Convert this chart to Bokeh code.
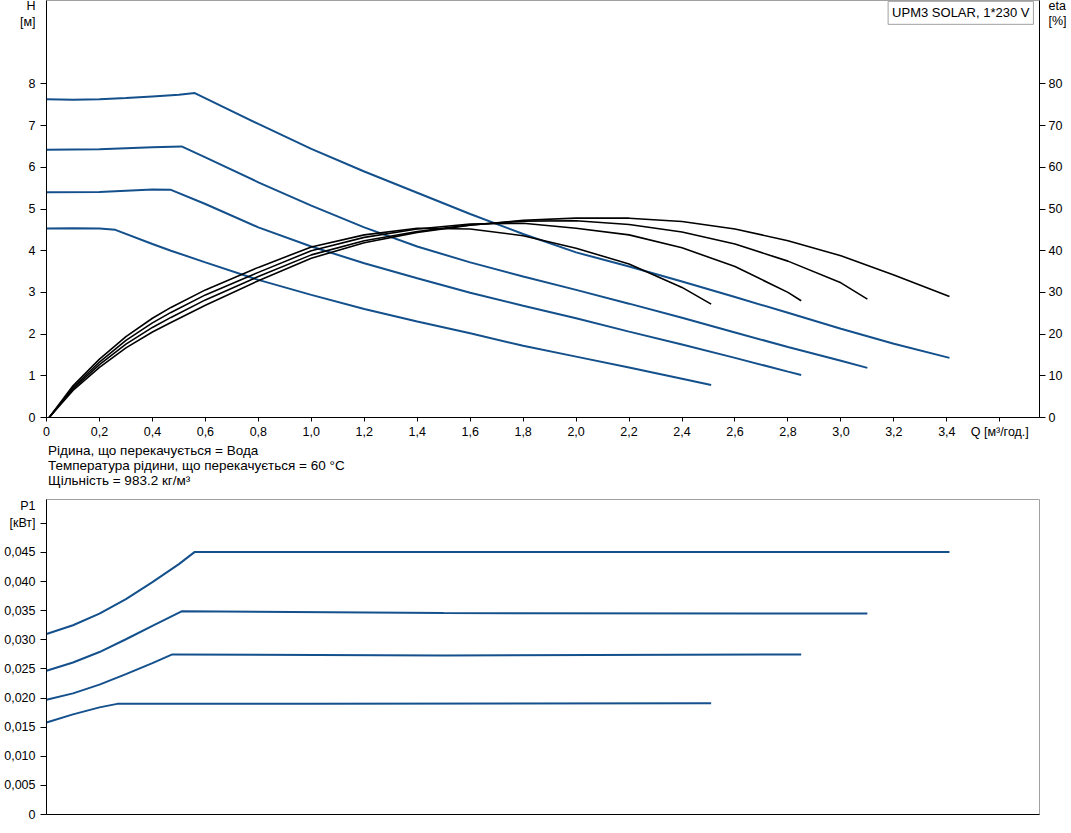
from bokeh.plotting import figure
from bokeh.models import Range1d, LinearAxis, FixedTicker, Label, Div
from bokeh.layouts import column
from bokeh.embed import file_html
from bokeh.resources import INLINE

FONT = "Liberation Sans"
BLUE = "#14508c"
GRID = "#d4d4d4"

# ---------------- data ----------------
q_ticks = [0, 0.2, 0.4, 0.6, 0.8, 1.0, 1.2, 1.4, 1.6, 1.8, 2.0, 2.2, 2.4, 2.6, 2.8, 3.0, 3.2, 3.4, 3.6]
q_labels = ["0", "0,2", "0,4", "0,6", "0,8", "1,0", "1,2", "1,4", "1,6", "1,8", "2,0", "2,2", "2,4",
            "2,6", "2,8", "3,0", "3,2", "3,4", "Q [м³/год.]"]
h_ticks = [0, 1, 2, 3, 4, 5, 6, 7, 8]
h_title = ["H", "[м]"]
eta_ticks = [0, 10, 20, 30, 40, 50, 60, 70, 80]
eta_title = ["eta", "[%]"]
p_ticks = [0, 0.005, 0.01, 0.015, 0.02, 0.025, 0.03, 0.035, 0.04, 0.045, 0.05]
p_labels = ["0", "0,005", "0,010", "0,015", "0,020", "0,025", "0,030", "0,035", "0,040", "0,045", "[кВт]"]
p_title = "P1"

# QH curves (Q m3/h, H m)
q_h4 = [0, 0.1, 0.2, 0.3, 0.4, 0.5, 0.56, 0.8, 1.0, 1.2, 1.4, 1.6, 1.8, 2.0, 2.2, 2.4, 2.6, 2.8, 3.0, 3.2, 3.41]
h_4 = [7.63, 7.62, 7.63, 7.66, 7.70, 7.74, 7.78, 7.04, 6.44, 5.90, 5.39, 4.88, 4.40, 3.96, 3.62, 3.26, 2.89, 2.51, 2.13, 1.77, 1.43]
q_h3 = [0, 0.2, 0.4, 0.51, 0.6, 0.8, 1.0, 1.2, 1.4, 1.6, 1.8, 2.0, 2.2, 2.4, 2.6, 2.8, 3.0, 3.1]
h_3 = [6.42, 6.43, 6.48, 6.50, 6.24, 5.64, 5.08, 4.56, 4.10, 3.72, 3.38, 3.06, 2.73, 2.39, 2.04, 1.69, 1.36, 1.19]
q_h2 = [0, 0.2, 0.4, 0.47, 0.6, 0.8, 1.0, 1.2, 1.4, 1.6, 1.8, 2.0, 2.2, 2.4, 2.6, 2.8, 2.85]
h_2 = [5.40, 5.41, 5.47, 5.46, 5.12, 4.56, 4.10, 3.70, 3.34, 2.99, 2.68, 2.38, 2.06, 1.75, 1.43, 1.10, 1.02]
q_h1 = [0, 0.1, 0.2, 0.26, 0.4, 0.47, 0.6, 0.8, 1.0, 1.2, 1.4, 1.6, 1.8, 2.0, 2.2, 2.4, 2.51]
h_1 = [4.53, 4.54, 4.53, 4.50, 4.16, 4.00, 3.72, 3.30, 2.94, 2.60, 2.30, 2.02, 1.72, 1.46, 1.20, 0.93, 0.78]

# efficiency curves (Q, eta %)
q_e1 = [0.01, 0.1, 0.2, 0.3, 0.4, 0.47, 0.6, 0.8, 1.0, 1.2, 1.4, 1.6, 1.8, 2.0, 2.2, 2.4, 2.51]
eta_1 = [0, 7.6, 14.0, 19.4, 23.8, 26.4, 30.6, 36.0, 40.9, 43.8, 45.4, 45.2, 43.6, 40.6, 36.8, 31.2, 27.2]
q_e2 = [0.01, 0.1, 0.2, 0.3, 0.4, 0.47, 0.6, 0.8, 1.0, 1.2, 1.4, 1.6, 1.8, 2.0, 2.2, 2.4, 2.6, 2.8, 2.85]
eta_2 = [0, 7.2, 13.3, 18.5, 22.7, 25.2, 29.4, 34.8, 40.0, 43.2, 45.2, 46.4, 46.6, 45.4, 43.8, 40.7, 36.2, 30.0, 28.0]
q_e3 = [0.01, 0.1, 0.2, 0.3, 0.4, 0.47, 0.6, 0.8, 1.0, 1.2, 1.4, 1.6, 1.8, 2.0, 2.2, 2.4, 2.6, 2.8, 3.0, 3.1]
eta_3 = [0, 6.9, 12.7, 17.6, 21.6, 24.0, 28.2, 33.8, 39.0, 42.4, 44.6, 46.2, 47.1, 47.2, 46.3, 44.5, 41.6, 37.5, 32.3, 28.4]
q_e4 = [0.01, 0.1, 0.2, 0.3, 0.4, 0.47, 0.6, 0.8, 1.0, 1.2, 1.4, 1.6, 1.8, 2.0, 2.2, 2.4, 2.6, 2.8, 3.0, 3.2, 3.41]
eta_4 = [0, 6.5, 12.0, 16.7, 20.5, 22.8, 26.9, 32.8, 38.2, 41.9, 44.4, 46.1, 47.3, 47.8, 47.8, 47.0, 45.2, 42.4, 38.8, 34.2, 29.0]

# power curves (Q, P1 kW)
q_p4 = [0, 0.1, 0.2, 0.3, 0.4, 0.5, 0.56, 1.5, 3.41]
p_4 = [0.0310, 0.0325, 0.0345, 0.0370, 0.0399, 0.0430, 0.0451, 0.0451, 0.0451]
q_p3 = [0, 0.1, 0.2, 0.3, 0.4, 0.51, 1.5, 3.1]
p_3 = [0.0247, 0.0261, 0.0279, 0.0301, 0.0324, 0.0349, 0.0346, 0.0345]
q_p2 = [0, 0.1, 0.2, 0.3, 0.4, 0.475, 1.5, 2.85]
p_2 = [0.0197, 0.0208, 0.0223, 0.0241, 0.0260, 0.0275, 0.0273, 0.0275]
q_p1 = [0, 0.1, 0.2, 0.267, 1.0, 2.51]
p_1 = [0.0158, 0.0172, 0.0184, 0.0190, 0.0190, 0.0191]

notes = ["Рідина, що перекачується = Вода",
         "Температура рідини, що перекачується = 60 °C",
         "Щільність = 983.2 кг/м³"]

X_MAX = 3.75
H_MAX = 10.0
ETA_MAX = 100.0
P_MAX = 0.0541


def style_axis(ax):
    ax.major_label_text_font = FONT
    ax.major_label_text_font_size = "12.5px"
    ax.major_label_text_color = "#000000"
    ax.axis_line_color = "#000000"
    ax.major_tick_line_color = "#000000"
    ax.minor_tick_line_color = "#000000"
    ax.major_tick_in = 0
    ax.minor_tick_in = 0


def titled_vaxis(ticks, labels, title_pos, titles, range_name="default"):
    # title texts sit on label-only (major) ticks; real tick marks are drawn as minor ticks
    overrides = {t: s for t, s in zip(ticks, labels)}
    overrides.update({t: s for t, s in zip(title_pos, titles)})
    ax = LinearAxis(y_range_name=range_name,
                    ticker=FixedTicker(ticks=list(ticks) + list(title_pos), minor_ticks=list(ticks)),
                    major_label_overrides=overrides)
    style_axis(ax)
    ax.major_tick_out = 0
    ax.minor_tick_out = 6
    ax.major_label_standoff = 5
    return ax


# ---------------- top chart ----------------
top = figure(frame_width=993, frame_height=417, output_backend="svg", toolbar_location=None,
             x_range=Range1d(0, X_MAX), y_range=Range1d(0, H_MAX),
             min_border_left=46, min_border_right=30, min_border_top=0, min_border_bottom=23,
             x_axis_type=None, y_axis_type=None)
top.extra_y_ranges = {"eta": Range1d(0, ETA_MAX)}
top.outline_line_color = "#a0a0a0"

xa = LinearAxis(ticker=FixedTicker(ticks=q_ticks),
                major_label_overrides={t: s for t, s in zip(q_ticks, q_labels)})
style_axis(xa)
xa.major_tick_out = 4
xa.major_label_standoff = 3
top.add_layout(xa, "below")
top.add_layout(titled_vaxis(h_ticks, [str(t) for t in h_ticks], [9.87, 9.48], h_title), "left")
ea = titled_vaxis(eta_ticks, [str(t) for t in eta_ticks], [98.6, 95.0], eta_title, "eta")
ea.major_label_standoff = 3
top.add_layout(ea, "right")

top.xgrid.ticker = FixedTicker(ticks=q_ticks[1:])
top.ygrid.ticker = FixedTicker(ticks=[1, 2, 3, 4, 5, 6, 7, 8, 9])
for g in (top.xgrid, top.ygrid):
    g.grid_line_color = GRID
    g.grid_line_width = 1

for qq, hh in ((q_h4, h_4), (q_h3, h_3), (q_h2, h_2), (q_h1, h_1)):
    top.line(qq, hh, line_color=BLUE, line_width=2)
for qq, ee in ((q_e1, eta_1), (q_e2, eta_2), (q_e3, eta_3), (q_e4, eta_4)):
    top.line(qq, ee, line_color="#000000", line_width=1.6, y_range_name="eta", line_join="round")

top.add_layout(Label(x=3.727, y=H_MAX - 0.02, text="UPM3 SOLAR, 1*230 V", text_font=FONT,
                     text_font_size="13px", text_color="#000000", text_align="right",
                     text_baseline="top", padding=4, border_line_color="#a0a0a0",
                     background_fill_color="white"))

# ---------------- notes ----------------
notes_div = Div(text=('<div style="font-family:\'Liberation Sans\';font-size:13.5px;line-height:15px;'
                      'color:#000;padding:2px 0 0 48px;white-space:nowrap">'
                      + "<br>".join(notes) + "</div>"),
                width=1000, height=52, margin=(0, 0, 0, 0))

# ---------------- bottom chart ----------------
bot = figure(frame_width=993, frame_height=315, output_backend="svg", toolbar_location=None,
             x_range=Range1d(0, X_MAX), y_range=Range1d(0, P_MAX),
             min_border_left=46, min_border_right=30, min_border_top=6, min_border_bottom=12,
             x_axis_type=None, y_axis_type=None)
bot.outline_line_color = "#a0a0a0"
bx = LinearAxis(ticker=FixedTicker(ticks=[]))
style_axis(bx)
bx.major_tick_out = 0
bot.add_layout(bx, "below")
bot.add_layout(titled_vaxis(p_ticks, p_labels, [0.0529], [p_title]), "left")
bot.xgrid.ticker = FixedTicker(ticks=q_ticks[1:])
bot.ygrid.ticker = FixedTicker(ticks=p_ticks[1:])
for g in (bot.xgrid, bot.ygrid):
    g.grid_line_color = GRID
    g.grid_line_width = 1

for qq, pp in ((q_p4, p_4), (q_p3, p_3), (q_p2, p_2), (q_p1, p_1)):
    bot.line(qq, pp, line_color=BLUE, line_width=2)

layout = column(top, notes_div, bot, spacing=0)
open("out.html", "w").write(file_html(layout, INLINE))
